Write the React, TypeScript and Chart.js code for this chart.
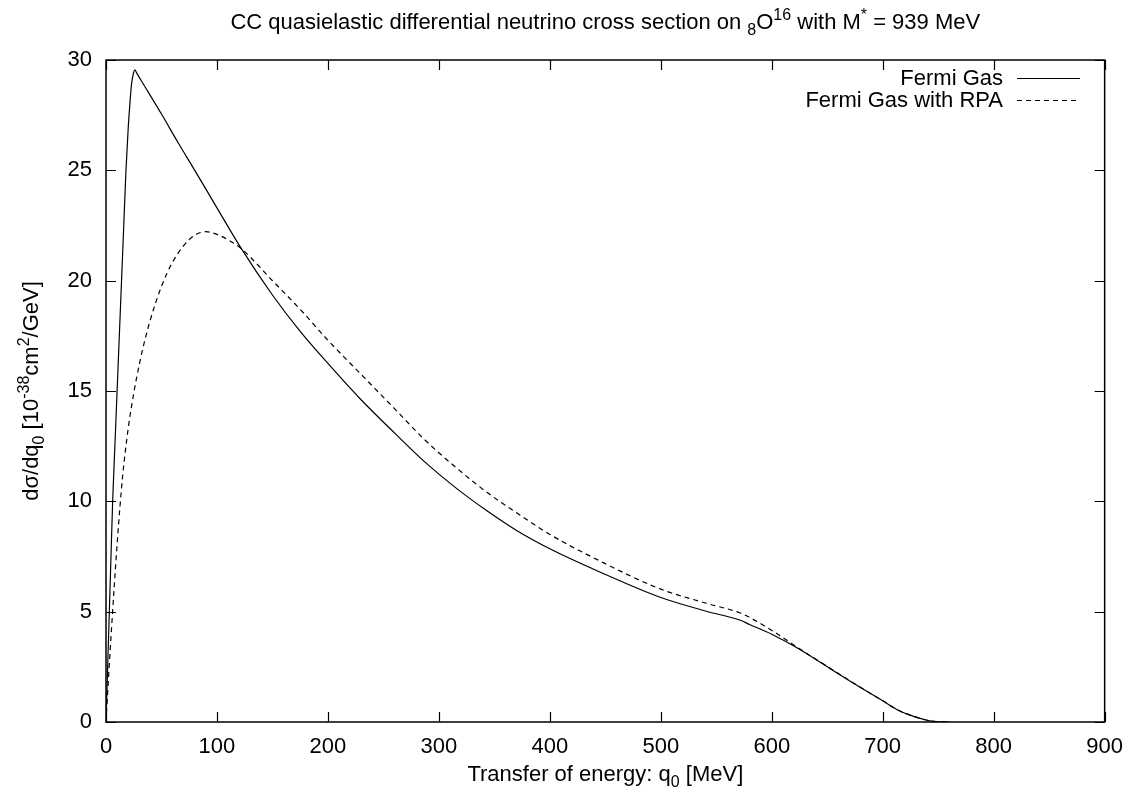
import React, { useEffect, useRef } from "react";
import { Chart, registerables } from "chart.js";

Chart.register(...registerables);

// ---- data ----
const fermiQ = [0, 1.5, 3, 4.5, 6, 8, 10, 12, 14, 16, 18, 20, 21.5, 23, 24.5, 26, 28, 35, 50, 65, 80, 100, 122, 150, 175, 200, 229, 260, 287, 315, 343, 370, 400, 445, 500, 541, 571, 580, 600, 625, 650, 670, 700, 715, 730, 740, 750, 760];
const fermiV = [0, 2.5, 5, 7.5, 10, 12.5, 15, 17.5, 20, 22.5, 25, 26.9, 28, 28.9, 29.35, 29.55, 29.38, 28.8, 27.55, 26.25, 25.0, 23.3, 21.45, 19.35, 17.7, 16.25, 14.65, 13.1, 11.8, 10.62, 9.58, 8.68, 7.85, 6.8, 5.64, 5.02, 4.62, 4.42, 3.98, 3.3, 2.5, 1.87, 0.96, 0.51, 0.22, 0.08, 0.01, 0];

const rpaQ = [0, 2.5, 5, 7.5, 10, 12.5, 15, 20, 25, 30, 35, 40, 45, 50, 55, 60, 70, 80, 90, 100, 110, 122, 150, 175, 200, 229, 260, 287, 315, 343, 370, 400, 445, 500, 541, 571, 580, 600, 625, 650, 670, 700, 715, 730, 740, 750, 760];
const rpaV = [0, 2.2, 4.25, 6.2, 8.05, 9.7, 11.15, 13.3, 14.9, 16.2, 17.3, 18.23, 19.04, 19.74, 20.34, 20.84, 21.59, 22.06, 22.22, 22.1, 21.85, 21.45, 20.0, 18.7, 17.3, 15.8, 14.2, 12.8, 11.55, 10.42, 9.48, 8.5, 7.3, 6.02, 5.38, 4.95, 4.74, 4.15, 3.32, 2.52, 1.88, 0.96, 0.51, 0.22, 0.08, 0.01, 0];

const xRange = [0, 900];
const xStep = 100;
const yRange = [0, 30];
const yStep = 5;

const legendLabels = ["Fermi Gas", "Fermi Gas with RPA"];

type Run = { t: string; sub?: boolean; sup?: boolean };
const titleRuns: Run[] = [
  { t: "CC quasielastic differential neutrino cross section on " },
  { t: "8", sub: true },
  { t: "O" },
  { t: "16", sup: true },
  { t: " with M" },
  { t: "*", sup: true },
  { t: " = 939 MeV" },
];
const yTitleRuns: Run[] = [
  { t: "d\u03c3/dq" },
  { t: "0", sub: true },
  { t: " [10" },
  { t: "-38", sup: true },
  { t: "cm" },
  { t: "2", sup: true },
  { t: "/GeV]" },
];
const xTitleRuns: Run[] = [
  { t: "Transfer of energy: q" },
  { t: "0", sub: true },
  { t: " [MeV]" },
];

const FAMILY = "'Liberation Sans', Arial, Helvetica, sans-serif";
const FS = 22;
const SFS = 16;
const TICK_LEN = 10;

function runFont(r: Run) {
  return `${r.sub || r.sup ? SFS : FS}px ${FAMILY}`;
}
function runsWidth(ctx: CanvasRenderingContext2D, runs: Run[]) {
  let w = 0;
  for (const r of runs) {
    ctx.font = runFont(r);
    w += ctx.measureText(r.t).width;
  }
  return w;
}
function drawRuns(ctx: CanvasRenderingContext2D, runs: Run[], cx: number, baseline: number) {
  let x = cx - runsWidth(ctx, runs) / 2;
  ctx.textAlign = "left";
  ctx.textBaseline = "alphabetic";
  for (const r of runs) {
    ctx.font = runFont(r);
    const dy = r.sub ? 6 : r.sup ? -9 : 0;
    ctx.fillText(r.t, x, baseline + dy);
    x += ctx.measureText(r.t).width;
  }
}

const decorPlugin = {
  id: "gnuplotDecor",
  afterDraw(chart: any) {
    const { ctx, chartArea: a, scales } = chart;
    const xs = scales.x;
    const ys = scales.y;
    ctx.save();
    ctx.strokeStyle = "#000";
    ctx.fillStyle = "#000";
    ctx.setLineDash([]);
    // inward ticks on all sides
    ctx.lineWidth = 1.2;
    ctx.beginPath();
    for (const t of xs.ticks) {
      const px = Math.round(xs.getPixelForValue(t.value)) + 0.5;
      ctx.moveTo(px, a.bottom);
      ctx.lineTo(px, a.bottom - TICK_LEN);
      ctx.moveTo(px, a.top);
      ctx.lineTo(px, a.top + TICK_LEN);
    }
    for (const t of ys.ticks) {
      const py = Math.round(ys.getPixelForValue(t.value)) + 0.5;
      ctx.moveTo(a.left, py);
      ctx.lineTo(a.left + TICK_LEN, py);
      ctx.moveTo(a.right, py);
      ctx.lineTo(a.right - TICK_LEN, py);
    }
    ctx.stroke();
    // frame
    ctx.lineWidth = 1.5;
    ctx.strokeRect(a.left, a.top, a.right - a.left, a.bottom - a.top);

    // title
    const cx = (a.left + a.right) / 2;
    drawRuns(ctx, titleRuns, cx, 29);
    // x title
    drawRuns(ctx, xTitleRuns, cx, 781);
    // y title (rotated)
    ctx.save();
    ctx.translate(38, (a.top + a.bottom) / 2);
    ctx.rotate(-Math.PI / 2);
    drawRuns(ctx, yTitleRuns, 0, 0);
    ctx.restore();

    // legend
    const textRight = 1003;
    const lineX0 = 1017;
    const lineX1 = 1080;
    const baselines = [85, 107];
    const dashes = [[], [5, 4]];
    ctx.font = `${FS}px ${FAMILY}`;
    ctx.textAlign = "right";
    ctx.textBaseline = "alphabetic";
    legendLabels.forEach((lab, i) => {
      ctx.fillText(lab, textRight, baselines[i]);
      ctx.beginPath();
      ctx.lineWidth = 1.2;
      ctx.setLineDash(dashes[i]);
      const ly = baselines[i] - 6.5;
      ctx.moveTo(lineX0, ly);
      ctx.lineTo(lineX1, ly);
      ctx.stroke();
    });
    ctx.restore();
  },
};

export default function App() {
  const canvasRef = useRef<HTMLCanvasElement | null>(null);

  useEffect(() => {
    const canvas = canvasRef.current;
    if (!canvas) return;
    const chart = new Chart(canvas, {
      type: "line",
      data: {
        datasets: [
          {
            label: legendLabels[0],
            data: fermiQ.map((q, i) => ({ x: q, y: fermiV[i] })),
            borderColor: "#000",
            borderWidth: 1.2,
            pointRadius: 0,
            fill: false,
            cubicInterpolationMode: "monotone",
          },
          {
            label: legendLabels[1],
            data: rpaQ.map((q, i) => ({ x: q, y: rpaV[i] })),
            borderColor: "#000",
            borderWidth: 1.2,
            borderDash: [5, 4],
            pointRadius: 0,
            fill: false,
            cubicInterpolationMode: "monotone",
          },
        ],
      },
      options: {
        responsive: false,
        animation: false,
        devicePixelRatio: 1,
        layout: { padding: { left: 0, right: 30, top: 60, bottom: 0 } },
        plugins: {
          legend: { display: false },
          tooltip: { enabled: false },
          title: { display: false },
        },
        scales: {
          x: {
            type: "linear",
            min: xRange[0],
            max: xRange[1],
            ticks: {
              stepSize: xStep,
              color: "#000",
              font: { family: FAMILY, size: FS },
              padding: 12,
              maxRotation: 0,
            },
            grid: { display: false, drawTicks: false },
            border: { display: false },
            afterFit: (s: any) => {
              s.height = 71;
            },
          },
          y: {
            type: "linear",
            min: yRange[0],
            max: yRange[1],
            ticks: {
              stepSize: yStep,
              color: "#000",
              font: { family: FAMILY, size: FS },
              padding: 14,
            },
            grid: { display: false, drawTicks: false },
            border: { display: false },
            afterFit: (s: any) => {
              s.width = 106;
            },
          },
        },
      },
      plugins: [decorPlugin],
    });
    return () => chart.destroy();
  }, []);

  return (
    <div style={{ position: "absolute", left: 0, top: 0, width: 1135, height: 793, background: "#fff" }}>
      <canvas ref={canvasRef} width={1135} height={793} style={{ display: "block" }} />
    </div>
  );
}
